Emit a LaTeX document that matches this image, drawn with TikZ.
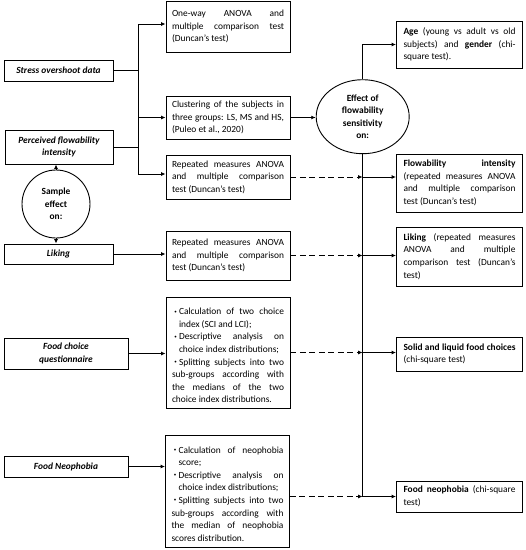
\documentclass[tikz,border=0pt]{standalone}
\usepackage{fontspec}
\setmainfont{Carlito}
\usepackage{tikz}
\usetikzlibrary{shapes, arrows.meta, positioning, calc}

\newcommand{\diagfont}{\fontsize{9.4}{12.6}\selectfont}
\newcommand{\bul}{\par\noindent\hangindent=7pt\hangafter=1\makebox[7pt][c]{\raisebox{0.35ex}{\fontsize{5}{5}\selectfont\textbullet}}}

\tikzset{
  inbox/.style={draw, line width=0.9pt, font=\diagfont\bfseries\itshape, align=center, inner sep=2pt},
  anbox/.style={draw, line width=0.9pt, font=\diagfont, text width=112pt, align=justify, inner xsep=6pt, inner ysep=3pt},
  resbox/.style={draw, line width=0.9pt, font=\diagfont, text width=112pt, align=justify, inner xsep=7pt, inner ysep=3pt},
  hub/.style={draw, line width=0.9pt, font=\diagfont\bfseries, align=center, inner sep=1pt},
  link/.style={line width=0.9pt, -{Latex[length=4.5pt, width=4pt]}},
  dashlink/.style={link, dash pattern=on 6pt off 3.5pt},
}

\begin{document}
\begin{tikzpicture}[x=1pt, y=-1pt]
  \useasboundingbox (0,0) rectangle (526,550);

  % Input data
  \node[inbox, minimum width=109pt, minimum height=21pt] (stress) at (58.5,70.5) {Stress overshoot data};
  \node[inbox, minimum width=108pt, minimum height=34pt] (perceived) at (59,147) {Perceived flowability\\intensity};
  \node[hub, circle, minimum size=68pt] (sample) at (56,204) {Sample\\effect\\on:};
  \node[inbox, minimum width=109pt, minimum height=20pt] (likingin) at (58.5,254) {Liking};
  \node[inbox, minimum width=124pt, minimum height=31pt] (choicein) at (66,353.5) {Food choice\\questionnaire};
  \node[inbox, minimum width=124pt, minimum height=21pt] (neoin) at (66,466.5) {Food Neophobia};

  % Analyses
  \node[anbox, minimum height=51pt] (oneway) at (228,26.5) {One-way ANOVA and\linebreak multiple comparison test\linebreak (Duncan's test)};
  \node[anbox, minimum height=43pt] (cluster) at (228,117.5) {Clustering of the subjects in\linebreak three groups: LS, MS and HS,\linebreak (Puleo et al., 2020)};
  \node[anbox, minimum height=44pt] (repflow) at (228,177) {Repeated measures ANOVA\linebreak and multiple comparison\linebreak test (Duncan's test)};
  \node[anbox, minimum height=49pt] (repliking) at (228,255.5) {Repeated measures ANOVA\linebreak and multiple comparison\linebreak test (Duncan's test)};
  \node[anbox, minimum height=111pt] (choiceproc) at (228,352.5) {\bul Calculation of two choice\linebreak index (SCI and LCI);
    \bul Descriptive analysis on\linebreak choice index distributions;
    \bul Splitting subjects into two\linebreak sub-groups according with\linebreak the medians of the two\linebreak choice index distributions.};
  \node[anbox, minimum height=112pt] (neoproc) at (227.5,491) {\bul Calculation of neophobia\linebreak score;
    \bul Descriptive analysis on\linebreak choice index distributions;
    \bul Splitting subjects into two\linebreak sub-groups according with\linebreak the median of neophobia\linebreak scores distribution.};

  % Results
  \node[hub, ellipse, minimum width=93pt, minimum height=74pt] (effect) at (362.7,116.7) {Effect of\\flowability\\sensitivity\\on:};
  \node[resbox, minimum height=47pt] (age) at (459.5,44.5) {\textbf{Age} (young vs adult vs old\linebreak subjects) and \textbf{gender} (chi-\linebreak square test).};
  \node[resbox, minimum height=58pt] (flowres) at (459.5,183) {\textbf{Flowability intensity}\linebreak (repeated measures ANOVA\linebreak and multiple comparison\linebreak test (Duncan's test)};
  \node[resbox, minimum height=59pt] (likingres) at (459.5,256.5) {\textbf{Liking} (repeated measures\linebreak ANOVA and multiple\linebreak comparison test (Duncan's\linebreak test)};
  \node[resbox, minimum height=34pt] (choiceres) at (459.5,354) {\textbf{Solid and liquid food choices}\linebreak (chi-square test)};
  \node[resbox, minimum height=31pt] (neores) at (459.5,496.5) {\textbf{Food neophobia} (chi-square\linebreak test)};

  % Left collector
  \coordinate (split) at (138,24);
  \coordinate (splitend) at (138,174);
  \draw[line width=0.9pt] (split) -- (splitend);
  \draw[line width=0.9pt] (stress.east) -- (stress.east -| split);
  \draw[line width=0.9pt] (perceived.east) -- (perceived.east -| split);
  \draw[link] (split) -- (split -| oneway.west);
  \draw[link] (cluster.west -| split) -- (cluster.west);
  \draw[link] (splitend) -- (splitend -| repflow.west);

  \draw[link] (sample.north) -- (sample.north |- perceived.south);
  \draw[link] (sample.south) -- (sample.south |- likingin.north);
  \draw[link] (likingin.east) -- (likingin.east -| repliking.west);
  \draw[link] (choicein.east) -- (choicein.east -| choiceproc.west);
  \draw[link] (neoin.east) -- (neoin.east -| neoproc.west);

  % Right spine
  \draw[link] (cluster.east) -- (cluster.east -| effect.west);
  \draw[link] (effect.north) |- (age.west);
  \draw[line width=0.9pt] (effect.south) -- (effect.south |- neores.west);
  \foreach \src/\dst in {repflow/flowres, repliking/likingres, choiceproc/choiceres} {
    \draw[dashlink] (\src.east) -- (\src.east -| effect.south);
    \draw[link] (\src.east -| effect.south) -- (\src.east -| \dst.west);
  }
  \draw[dashlink] (neores.west -| neoproc.east) -- (neores.west -| effect.south);
  \draw[link] (neores.west -| effect.south) -- (neores.west);
\end{tikzpicture}
\end{document}
